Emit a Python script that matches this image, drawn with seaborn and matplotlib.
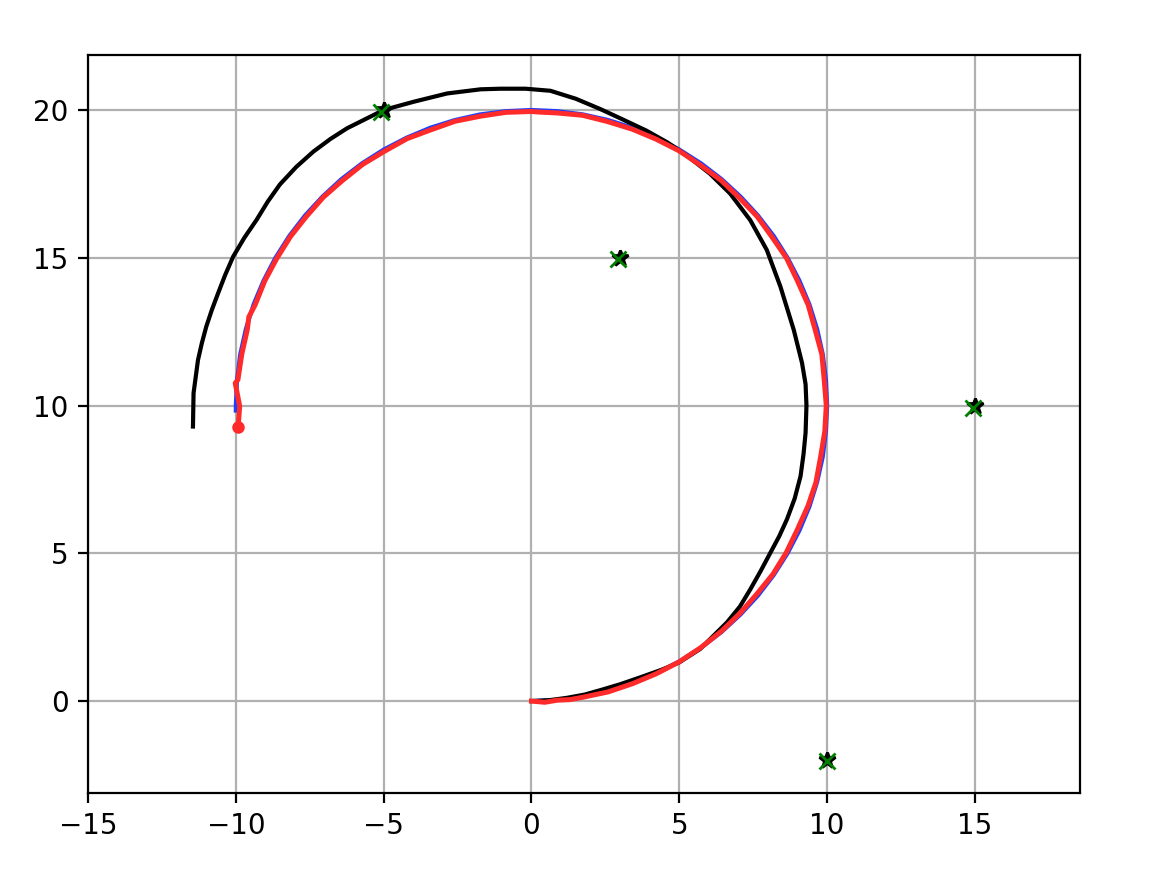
import pandas as pd
import seaborn as sns
import matplotlib
matplotlib.use("Agg")
import matplotlib.pyplot as plt

# true path (blue)
true_x = [0.00, 0.87, 1.74, 2.59, 3.42, 4.23, 5.00, 5.74, 6.43, 7.07,
          7.66, 8.19, 8.66, 9.06, 9.40, 9.66, 9.85, 9.96, 10.00, 9.96,
          9.85, 9.66, 9.40, 9.06, 8.66, 8.19, 7.66, 7.07, 6.43, 5.74,
          5.00, 4.23, 3.42, 2.59, 1.74, 0.87, 0.00, -0.87, -1.74, -2.59,
          -3.42, -4.23, -5.00, -5.74, -6.43, -7.07, -7.66, -8.19, -8.66, -9.06,
          -9.40, -9.66, -9.85, -9.96, -10.00, -10.00]
true_y = [0.00, 0.04, 0.15, 0.34, 0.60, 0.94, 1.34, 1.81, 2.34, 2.93,
          3.57, 4.26, 5.00, 5.77, 6.58, 7.41, 8.26, 9.13, 10.00, 10.87,
          11.74, 12.59, 13.42, 14.23, 15.00, 15.74, 16.43, 17.07, 17.66, 18.19,
          18.66, 19.06, 19.40, 19.66, 19.85, 19.96, 20.00, 19.96, 19.85, 19.66,
          19.40, 19.06, 18.66, 18.19, 17.66, 17.07, 16.43, 15.74, 15.00, 14.23,
          13.42, 12.59, 11.74, 10.87, 10.00, 9.83]

# dead reckoning (black)
dr_x = [0.00, 0.60, 1.20, 1.80, 2.33, 3.00, 3.67, 4.40, 5.00, 5.70,
        6.61, 7.05, 7.40, 7.75, 8.08, 8.38, 8.64, 8.90, 9.10, 9.20,
        9.27, 9.30, 9.27, 9.15, 8.87, 8.42, 7.96, 7.40, 6.72, 6.04,
        5.25, 4.60, 3.89, 3.00, 2.33, 1.50, 0.64, -0.20, -1.05, -1.72,
        -2.85, -3.98, -5.00, -6.24, -6.80, -7.38, -7.96, -8.51, -8.92, -9.30,
        -9.71, -10.09, -10.36, -10.60, -10.81, -11.00, -11.15, -11.28, -11.43, -11.45]
dr_y = [0.00, 0.03, 0.11, 0.22, 0.37, 0.57, 0.80, 1.06, 1.31, 1.76,
        2.66, 3.20, 3.78, 4.40, 5.02, 5.58, 6.15, 6.85, 7.61, 8.35,
        9.08, 10.00, 10.72, 11.44, 12.56, 14.02, 15.26, 16.27, 17.17, 17.84,
        18.46, 18.90, 19.30, 19.72, 20.03, 20.38, 20.65, 20.72, 20.72, 20.70,
        20.56, 20.28, 20.00, 19.38, 19.02, 18.59, 18.07, 17.48, 16.90, 16.28,
        15.68, 15.04, 14.42, 13.80, 13.24, 12.67, 12.11, 11.54, 10.42, 9.29]

# estimate (red)
est_x = [0.00, 0.45, 0.87, 1.30, 1.74, 2.59, 3.42, 4.23, 5.00, 5.74,
         6.43, 7.05, 7.62, 8.17, 8.62, 9.00, 9.35, 9.62, 9.78, 9.92,
         9.97, 9.90, 9.82, 9.59, 9.36, 9.00, 8.63, 8.13, 7.63, 7.02,
         6.41, 5.69, 4.99, 4.20, 3.41, 2.57, 1.73, 0.87, 0.25, 0.00,
         -0.87, -1.73, -2.58, -3.40, -4.21, -4.98, -5.71, -6.40, -7.04, -7.62,
         -8.15, -8.62, -9.02, -9.35, -9.56, -9.61, -9.80, -9.93, -10.02, -9.87,
         -9.92]
est_y = [0.00, -0.04, 0.03, 0.05, 0.13, 0.31, 0.59, 0.93, 1.33, 1.82,
         2.37, 2.97, 3.62, 4.30, 5.03, 5.82, 6.60, 7.40, 8.27, 9.13,
         10.00, 10.87, 11.73, 12.58, 13.40, 14.21, 14.98, 15.71, 16.40, 17.04,
         17.62, 18.15, 18.62, 19.02, 19.35, 19.61, 19.82, 19.90, 19.93, 19.95,
         19.92, 19.79, 19.62, 19.33, 19.03, 18.60, 18.16, 17.61, 17.05, 16.39,
         15.72, 14.97, 14.22, 13.40, 13.00, 12.58, 11.73, 10.87, 10.76, 9.98,
         9.29]

# landmarks: true (black star) and estimated (green x)
lm_x = [10.0, 15.0, 3.0, -5.0]
lm_y = [-2.0, 10.0, 15.0, 20.0]
lm_est_x = [9.98, 14.93, 2.94, -5.08]
lm_est_y = [-2.04, 9.93, 14.96, 19.92]

fig = plt.figure(figsize=(5.82, 4.36), dpi=200)
ax = fig.add_axes([0.0756, 0.0906, 0.8522, 0.8463])

sns.lineplot(x=true_x, y=true_y, sort=False, estimator=None, color="#1f3fff", lw=1.5, ax=ax)
sns.lineplot(x=dr_x, y=dr_y, sort=False, estimator=None, color="black", lw=1.5, ax=ax)
sns.lineplot(x=est_x, y=est_y, sort=False, estimator=None, color="#ff2a2a", lw=1.8, ax=ax)

ax.plot(lm_x, lm_y, "*k", markersize=6)
ax.plot(lm_est_x, lm_est_y, "x", color="green", markersize=6)
ax.plot(est_x[-1], est_y[-1], ".", color="#ff2a2a", markersize=7)

ax.set_xlim(-15, 18.55)
ax.set_ylim(-3.11, 21.86)
ax.grid(True, color="#b0b0b0", lw=0.8)
ax.set_axisbelow(True)

fig.savefig("out.png", dpi=200)
